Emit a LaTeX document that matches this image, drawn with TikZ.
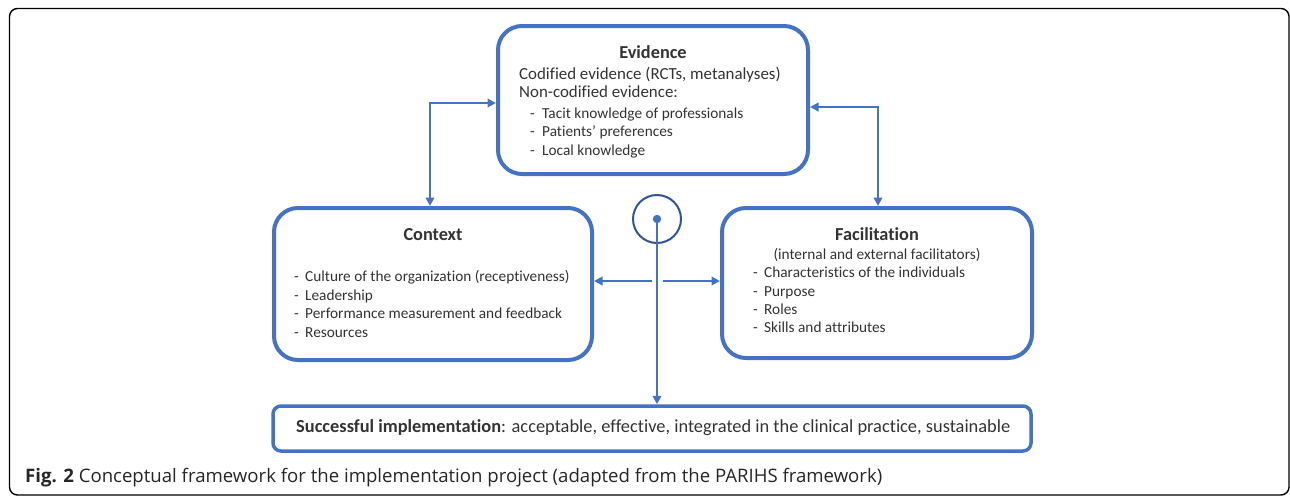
\documentclass[tikz,border=0pt]{standalone}
\usepackage{fontspec}
\setmainfont{Carlito}[RawFeature={-liga;-dlig;-clig}]
\newfontfamily\capfont{Open Sans}
\usetikzlibrary{arrows.meta}
\definecolor{boxblue}{HTML}{4472C4}
\definecolor{darkblue}{HTML}{2F5597}
\definecolor{txt}{HTML}{333333}
\begin{document}
\begin{tikzpicture}[x=1pt,y=-1pt,
  bx/.style={draw=boxblue,line width=4pt,rounded corners=24pt,inner sep=0pt},
  conn/.style={draw=boxblue,line width=2.8pt,{Triangle[length=8.5pt,width=8.5pt]}-{Triangle[length=8.5pt,width=8.5pt]}},
  conn1/.style={draw=boxblue,line width=2.8pt,-{Triangle[length=8.5pt,width=8.5pt]}},
  tl/.style={inner sep=0pt,anchor=base west,text=txt,font=\fontsize{16.9}{19}\selectfont},
  tt/.style={inner sep=0pt,anchor=base,text=txt,font=\fontsize{18.3}{20}\selectfont\bfseries},
  ti/.style={inner sep=0pt,anchor=base west,text=txt,font=\fontsize{15.3}{17}\selectfont},
]
\useasboundingbox (0,0) rectangle (1290,496);
% outer frame
\draw[black,line width=1.4pt,rounded corners=8pt] (9.5,8.5) rectangle (1289,495);

% boxes
\node[bx,minimum width=310pt,minimum height=148pt] (ev) at (653,100) {};
\node[bx,minimum width=318pt,minimum height=152pt] (ctx) at (433,284) {};
\node[bx,minimum width=310pt,minimum height=150pt] (fac) at (877,283) {};
\node[draw=boxblue,line width=3.5pt,rounded corners=8pt,inner sep=0pt,minimum width=758pt,minimum height=45pt] (suc) at (652,428.5) {};
\node[draw=darkblue,line width=2pt,circle,minimum size=48pt,inner sep=0pt] (ci) at (657,219) {};
\fill[boxblue] (ci.center) circle (4.2pt);

% evidence text
\node[tt] (evt) at (653,58) {Evidence};
\node[tl] (ev1) at (519,79.3) {Codified evidence (RCTs, metanalyses)};
\node[tl] (ev2) at (519,97.8) {Non-codified evidence:};
\node[ti] (ev3d) at (530,118.3) {-};
\node[ti] (ev3) at (542,118.3) {Tacit knowledge of professionals};
\node[ti] (ev4d) at (530,136.7) {-};
\node[ti] (ev4) at (542,136.7) {Patients’ preferences};
\node[ti] (ev5d) at (530,155) {-};
\node[ti] (ev5) at (542,155) {Local knowledge};

% context text
\node[tt] (ctxt) at (433,240) {Context};
\foreach \y/\t [count=\i] in {281.7/Culture of the organization (receptiveness),300.3/Leadership,318.7/Performance measurement and feedback,337.3/Resources}{
  \node[ti] (cd\i) at (294,\y) {-};
  \node[ti] (ct\i) at (305,\y) {\t};
}

% facilitation text
\node[tt] (fact) at (877,240) {Facilitation};
\node[ti,anchor=base] (fac0) at (877,259) {(internal and external facilitators)};
\foreach \y/\t [count=\i] in {277.3/Characteristics of the individuals,296/Purpose,314.3/Roles,332.7/Skills and attributes}{
  \node[ti] (fd\i) at (753,\y) {-};
  \node[ti] (ft\i) at (764,\y) {\t};
}

% successful
\node[inner sep=0pt,anchor=base west,text=txt,font=\fontsize{18.4}{20}\selectfont] (suct) at (296,432.7) {\textbf{Successful implementation}: acceptable, effective, integrated in the clinical practice, sustainable};

% caption
\node[inner sep=0pt,anchor=base west,font=\capfont\fontsize{18.6}{20}\selectfont,text=black!85] (cap) at (25,482) {\textbf{Fig. 2} Conceptual framework for the implementation project (adapted from the PARIHS framework)};

% connectors
\coordinate (c1) at (430,103);
\coordinate (c2) at (878,107);
\draw[conn] (ev.west |- c1) -| (ctx.north -| c1);
\draw[conn] (ev.east |- c2) -| (fac.north -| c2);
\draw[conn1] (ci.center) -- (suc.north -| ci.center);
\coordinate (hl) at (652,281);
\coordinate (hr) at (663,281);
\draw[conn1] (hl) -- (ctx.east |- hl);
\draw[conn1] (hr) -- (fac.west |- hr);
\end{tikzpicture}
\end{document}
